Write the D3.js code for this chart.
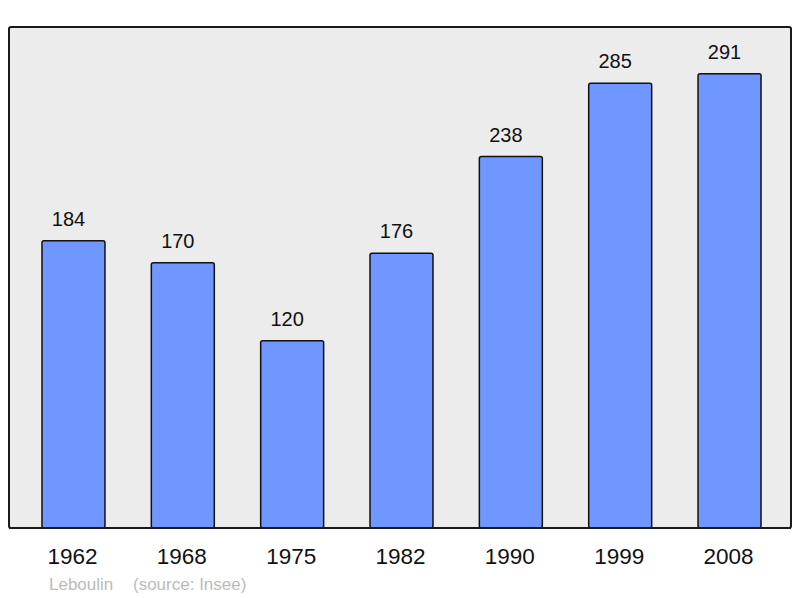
<!DOCTYPE html>
<html><head><meta charset="utf-8">
<script src="https://cdn.jsdelivr.net/npm/d3@7"></script>
<style>body{margin:0;background:#fff}svg{display:block}</style>
</head><body>
<svg id="c" width="800" height="598"></svg>
<script>
const years = ["1962","1968","1975","1982","1990","1999","2008"];
const population = [184,170,120,176,238,285,291];

const svg = d3.select("#c");
const font = "Liberation Sans, Arial, sans-serif";
const box = {x0:9, y0:27, x1:791, y1:528};

svg.append("rect").attr("x",box.x0).attr("y",box.y0)
  .attr("width",box.x1-box.x0).attr("height",box.y1-box.y0)
  .attr("rx",2).attr("fill","#ececec").attr("stroke","#1a1a1a").attr("stroke-width",2);

const x = d3.scaleBand().domain(years).range([18.8,784.2]).paddingInner(0.424).paddingOuter(0.212);
const y = d3.scaleLinear().domain([0,321]).range([box.y1, box.y0]);

svg.selectAll("rect.bar").data(population).join("rect").attr("class","bar")
  .attr("x",(d,i)=>x(years[i])).attr("y",d=>y(d))
  .attr("width",x.bandwidth()).attr("height",d=>y(0)-y(d))
  .attr("rx",2).attr("fill","#7096ff").attr("stroke","#111").attr("stroke-width",1.5);

svg.selectAll("text.val").data(population).join("text").attr("class","val")
  .attr("x",(d,i)=>x(years[i])+x.bandwidth()/2-5).attr("y",d=>y(d)-15)
  .attr("text-anchor","middle").attr("font-family",font).attr("font-size",20)
  .attr("fill","#111").text(d=>d);

svg.selectAll("text.yr").data(years).join("text").attr("class","yr")
  .attr("x",d=>x(d)+x.bandwidth()/2-1).attr("y",564)
  .attr("text-anchor","middle").attr("font-family",font).attr("font-size",22.5)
  .attr("fill","#111").text(d=>d);

svg.append("line").attr("x1",box.x0).attr("x2",box.x1).attr("y1",box.y1).attr("y2",box.y1)
  .attr("stroke","#1a1a1a").attr("stroke-width",2);

svg.append("text").attr("x",49).attr("y",590).attr("font-family",font).attr("font-size",17)
  .attr("fill","#bbbbbb").text("Leboulin");
svg.append("text").attr("x",133).attr("y",590).attr("font-family",font).attr("font-size",17)
  .attr("fill","#bbbbbb").text("(source: Insee)");
</script>
</body></html>
